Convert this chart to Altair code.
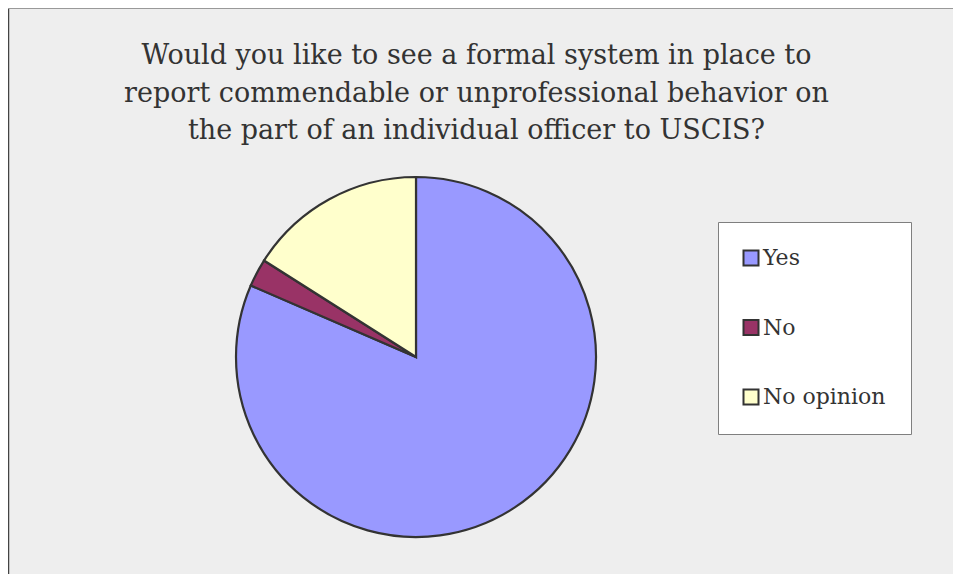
import altair as alt
import pandas as pd

categories = ["Yes", "No", "No opinion"]
shares = [81.5, 2.5, 16.0]
slice_order = [0, 1, 2]
colors = ["#9999ff", "#993366", "#ffffcc"]
title_lines = [
    "Would you like to see a formal system in place to",
    "report commendable or unprofessional behavior on",
    "the part of an individual officer to USCIS?",
]

df = pd.DataFrame({"answer": categories, "share": shares, "order": slice_order})
frame_df = pd.DataFrame({"k": [0]})

W, H = 945, 566
FONT = "DejaVu Serif"

pie = alt.Chart(df).mark_arc(outerRadius=180, stroke="#333333", strokeWidth=2.2).encode(
    theta=alt.Theta("share:Q", stack=True),
    order=alt.Order("order:Q"),
    color=alt.Color(
        "answer:N",
        sort=categories,
        scale=alt.Scale(domain=categories, range=colors),
        legend=alt.Legend(
            title=None,
            orient="none",
            legendX=710,
            legendY=214,
            fillColor="white",
            strokeColor="#7f7f7f",
            padding=25,
            symbolType="square",
            symbolSize=225,
            symbolOffset=-3,
            symbolStrokeColor="#333333",
            symbolStrokeWidth=2,
            labelFont=FONT,
            labelFontSize=22,
            labelColor="#333333",
            rowPadding=45.5,
            labelOffset=1,
            labelLimit=400,
        ),
    ),
    x=alt.value(408),
    y=alt.value(349),
)

left_rule = alt.Chart(frame_df).mark_rule(color="#444444", strokeWidth=1.5).encode(
    x=alt.value(0.5), y=alt.value(0), y2=alt.value(H)
)
top_rule = alt.Chart(frame_df).mark_rule(color="#999999", strokeWidth=1).encode(
    x=alt.value(0), x2=alt.value(W), y=alt.value(0.5)
)

chart = alt.layer(pie, left_rule, top_rule).properties(
    width=W,
    height=H,
    background="#eeeeee",
    padding=0,
    autosize=alt.AutoSizeParams(type="none"),
    title=alt.TitleParams(
        text=title_lines,
        font=FONT,
        fontSize=27,
        fontWeight="normal",
        color="#333333",
        anchor="middle",
        orient="top",
        baseline="alphabetic",
        lineHeight=37.5,
        offset=0,
        dy=159,
        dx=-4,
    ),
).configure_view(strokeWidth=0)

chart.save("out.html", embed_options={"renderer": "svg", "actions": False})
